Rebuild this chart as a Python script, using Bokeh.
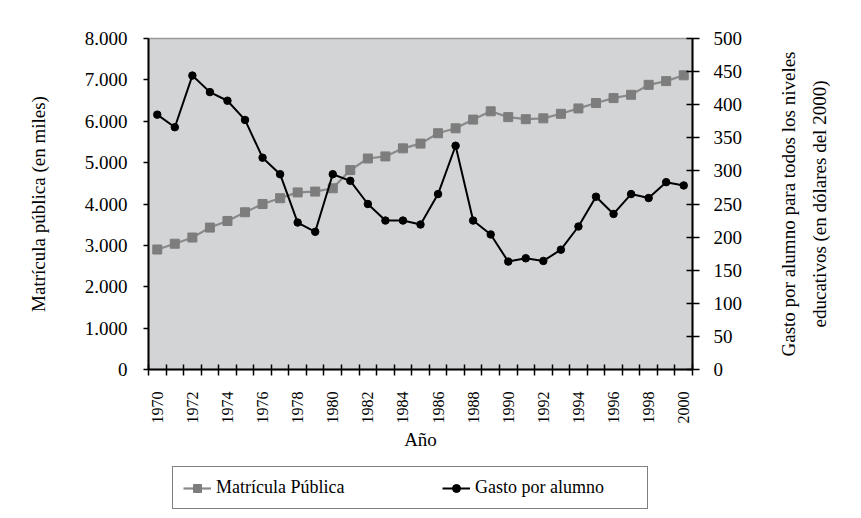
import math
from bokeh.plotting import figure
from bokeh.layouts import row, column
from bokeh.models import Range1d, LinearAxis, FixedTicker, Legend, LegendItem
from bokeh.embed import file_html
from bokeh.resources import INLINE

# ---------------- data ----------------
years = list(range(1970, 2001))
matricula = [2900, 3040, 3190, 3430, 3590, 3800, 4000, 4140, 4280, 4300,
             4380, 4820, 5100, 5150, 5345, 5460, 5710, 5830, 6040, 6240,
             6100, 6050, 6070, 6180, 6310, 6440, 6560, 6640, 6880, 6970, 7110]
gasto = [385, 366, 444, 419, 406, 377, 320, 295, 222, 208,
         295, 285, 250, 225, 225, 219, 265, 338, 225, 204,
         163, 168, 164, 181, 216, 261, 235, 265, 259, 283, 278]

x_label_years = list(range(1970, 2001, 2))
left_ticks = [0, 1000, 2000, 3000, 4000, 5000, 6000, 7000, 8000]
left_tick_labels = ["0", "1.000", "2.000", "3.000", "4.000", "5.000", "6.000", "7.000", "8.000"]
right_ticks = [0, 50, 100, 150, 200, 250, 300, 350, 400, 450, 500]

series_names = ["Matrícula Pública", "Gasto por alumno"]
x_title = "Año"
left_title = "Matrícula pública (en miles)"
right_title = "Gasto por alumno para todos los niveles\neducativos (en dólares del 2000)"

FONT = "Liberation Serif"
GRAY_LINE = "#8a8a8a"
GRAY_MARK = "#7d7d7d"

x_start, x_end = years[0] - 0.5, years[-1] + 0.5
left_max, right_max = left_ticks[-1], right_ticks[-1]

TOP_H = 458

p = figure(width=760, height=TOP_H, output_backend="svg", toolbar_location=None,
           x_range=Range1d(x_start, x_end), y_range=Range1d(0, left_max),
           min_border_left=148, min_border_right=68,
           min_border_top=38, min_border_bottom=TOP_H - 369)
p.background_fill_color = "#d3d4d6"
p.border_fill_color = "white"
p.outline_line_color = "#9a9a9a"
p.outline_line_width = 1.5
p.grid.visible = False
p.extra_y_ranges = {"gasto": Range1d(0, right_max)}

# x axis
xa = p.xaxis[0]
xa.ticker = FixedTicker(ticks=x_label_years, minor_ticks=[y - 0.5 for y in years] + [x_end])
xa.major_label_orientation = math.pi / 2
xa.major_tick_in = 0
xa.major_tick_out = 0
xa.minor_tick_in = 5
xa.minor_tick_out = 6
xa.minor_tick_line_color = "black"
xa.minor_tick_line_width = 1.5
xa.axis_line_color = "black"
xa.axis_line_width = 2
xa.major_label_standoff = 16
xa.major_label_text_font = FONT
xa.major_label_text_font_size = "16px"
xa.major_label_text_color = "black"
xa.axis_label = x_title
xa.axis_label_text_font = FONT
xa.axis_label_text_font_size = "19px"
xa.axis_label_text_font_style = "normal"
xa.axis_label_text_color = "black"
xa.axis_label_standoff = 2

# left axis
ya = p.yaxis[0]
ya.ticker = FixedTicker(ticks=left_ticks)
ya.major_label_overrides = {t: s for t, s in zip(left_ticks, left_tick_labels)}
ya.major_tick_in = 0
ya.major_tick_out = 5
ya.minor_tick_in = 0
ya.minor_tick_out = 0
ya.major_tick_line_width = 1.5
ya.axis_line_width = 2
ya.axis_line_color = "black"
ya.major_label_standoff = 16
ya.major_label_text_font = FONT
ya.major_label_text_font_size = "19px"
ya.major_label_text_color = "black"
ya.axis_label = left_title
ya.axis_label_text_font = FONT
ya.axis_label_text_font_size = "19px"
ya.axis_label_text_font_style = "normal"
ya.axis_label_text_color = "black"
ya.axis_label_standoff = 33

# right axis
ra = LinearAxis(y_range_name="gasto", ticker=FixedTicker(ticks=right_ticks))
ra.major_tick_in = 6
ra.major_tick_out = 7
ra.minor_tick_in = 0
ra.minor_tick_out = 0
ra.major_tick_line_width = 1.5
ra.axis_line_width = 2
ra.axis_line_color = "black"
ra.major_label_standoff = 14
ra.major_label_text_font = FONT
ra.major_label_text_font_size = "19px"
ra.major_label_text_color = "black"
p.add_layout(ra, "right")

# series
line_m = dict(line_color=GRAY_LINE, line_width=2.2)
mark_m = dict(marker="square", size=9, fill_color=GRAY_MARK, line_color=GRAY_MARK)
line_g = dict(line_color="black", line_width=2)
mark_g = dict(marker="circle", size=7.5, fill_color="black", line_color="black")

p.line(years, matricula, **line_m)
p.scatter(years, matricula, **mark_m)
p.line(years, gasto, y_range_name="gasto", **line_g)
p.scatter(years, gasto, y_range_name="gasto", **mark_g)

# right-hand title: a narrow companion figure whose left axis carries the rotated text
p2 = figure(width=101, height=TOP_H, output_backend="svg", toolbar_location=None,
            x_range=Range1d(0, 1), y_range=Range1d(0, 1),
            min_border_left=80, min_border_right=0,
            min_border_top=31, min_border_bottom=TOP_H - 369)
p2.outline_line_color = None
p2.background_fill_color = "white"
p2.border_fill_color = "white"
p2.grid.visible = False
p2.xaxis.visible = False
t_ax = p2.yaxis[0]
t_ax.ticker = FixedTicker(ticks=[])
t_ax.axis_line_color = None
t_ax.major_tick_line_color = None
t_ax.minor_tick_line_color = None
t_ax.axis_label = right_title
t_ax.axis_label_text_font = FONT
t_ax.axis_label_text_font_size = "19px"
t_ax.axis_label_text_font_style = "normal"
t_ax.axis_label_text_color = "black"
t_ax.axis_label_text_line_height = 1.45
t_ax.axis_label_standoff = 11

# legend strip below the chart (its series lie outside this strip's ranges, so only the key shows)
p3 = figure(width=861, height=518 - TOP_H, output_backend="svg", toolbar_location=None,
            x_range=Range1d(0, 1), y_range=Range1d(0, 1),
            min_border_left=0, min_border_right=0, min_border_top=0, min_border_bottom=0)
p3.outline_line_color = None
p3.background_fill_color = "white"
p3.border_fill_color = "white"
p3.grid.visible = False
p3.axis.visible = False
lm = p3.line(years, matricula, **line_m)
sm = p3.scatter(years, matricula, **mark_m)
lg = p3.line(years, gasto, **line_g)
sg = p3.scatter(years, gasto, **mark_g)

legend = Legend(items=[LegendItem(label=series_names[0], renderers=[lm, sm]),
                       LegendItem(label=series_names[1], renderers=[lg, sg])],
                orientation="horizontal", location=(172, 9),
                padding=10, spacing=64, margin=0,
                glyph_width=28, glyph_height=20, label_height=20,
                label_width=162, label_standoff=5,
                label_text_font=FONT, label_text_font_size="18px",
                label_text_color="black",
                border_line_color="black", border_line_width=1,
                background_fill_color="white", background_fill_alpha=1)
p3.add_layout(legend)

layout = column(row(p, p2), p3)
open("out.html", "w").write(file_html(layout, INLINE))
